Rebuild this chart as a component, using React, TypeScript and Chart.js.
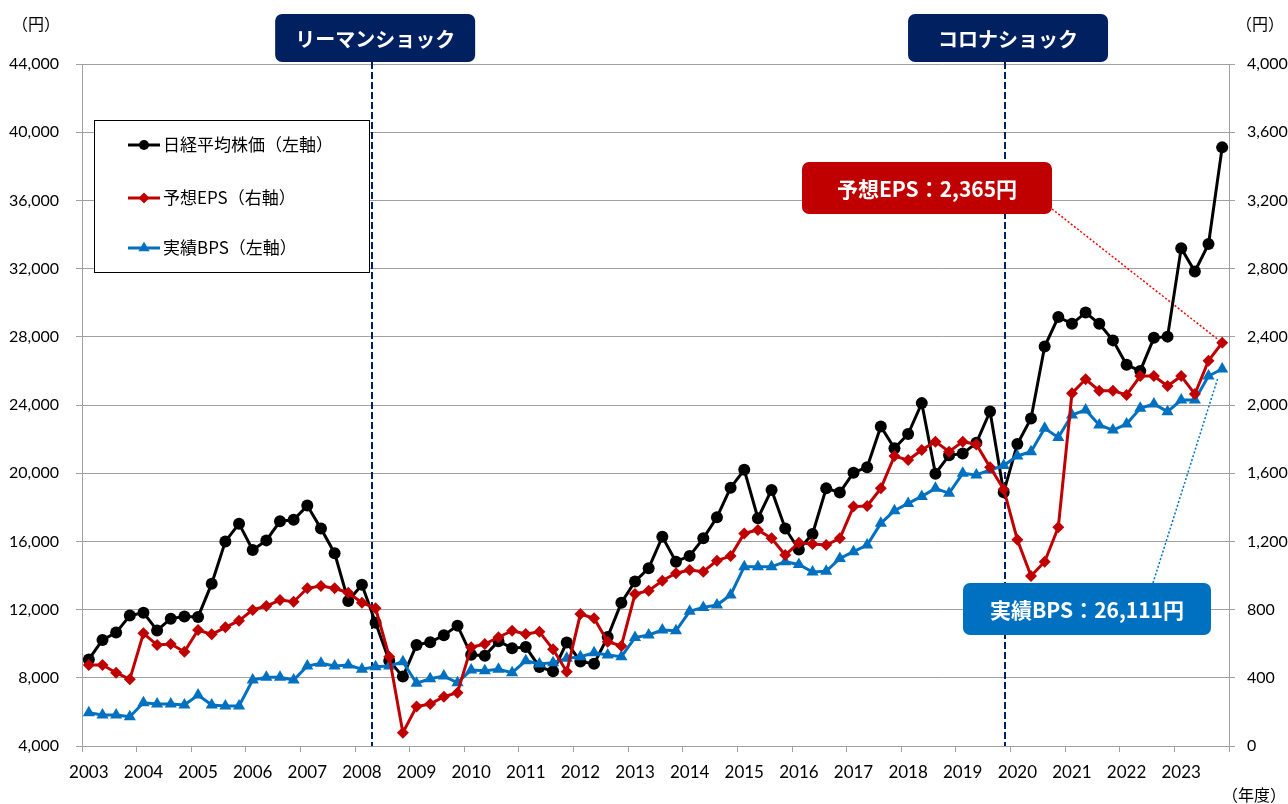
import { useEffect, useRef } from 'react';
import { Chart, registerables } from 'chart.js';

Chart.register(...registerables);

// ---------- data ----------
const YEARS = ['2003', '2004', '2005', '2006', '2007', '2008', '2009', '2010', '2011', '2012', '2013', '2014', '2015', '2016', '2017', '2018', '2019', '2020', '2021', '2022', '2023'];
const QUARTERS = ['Q1', 'Q2', 'Q3', 'Q4'];
const CATEGORIES = YEARS.flatMap((y) => QUARTERS.map((q) => `${y}${q}`));

const SERIES_NAMES = ['日経平均株価（左軸）', '予想EPS（右軸）', '実績BPS（左軸）'];

// 日経平均株価 (left axis, 円)
const NIKKEI = [
  9080, 10220, 10650, 11650,
  11820, 10780, 11470, 11600,
  11570, 13520, 16000, 17040,
  15500, 16060, 17180, 17270,
  18100, 16750, 15310, 12510,
  13460, 11230, 9000, 8070,
  9930, 10080, 10500, 11060,
  9350, 9300, 10150, 9740,
  9800, 8640, 8380, 10070,
  8960, 8820, 10400, 12400,
  13650, 14430, 16270, 14810,
  15150, 16180, 17420, 19150,
  20200, 17360, 19020, 16760,
  15520, 16440, 19110, 18870,
  20030, 20350, 22740, 21460,
  22300, 24110, 19970, 21050,
  21150, 21780, 23620, 18880,
  21710, 23210, 27430, 29160,
  28760, 29420, 28760, 27790,
  26360, 26000, 27940, 28010,
  33200, 31830, 33440, 39110,
];

// 予想EPS (right axis, 円)
const EPS = [
  475, 475, 430, 391,
  661, 592, 598, 553,
  680, 655, 696, 735,
  798, 821, 856, 846,
  925, 938, 925, 899,
  840, 808, 524, 78,
  231, 246, 289, 313,
  579, 598, 638, 676,
  657, 670, 567, 436,
  774, 749, 612, 587,
  891, 911, 969, 1013,
  1032, 1022, 1087, 1114,
  1247, 1267, 1218, 1120,
  1192, 1185, 1179, 1218,
  1404, 1408, 1511, 1701,
  1677, 1736, 1785, 1726,
  1785, 1769, 1635, 1506,
  1210, 997, 1081, 1283,
  2069, 2151, 2084, 2084,
  2059, 2170, 2170, 2111,
  2170, 2064, 2260, 2365,
];

// 実績BPS (left axis, 円)
const BPS = [
  5950, 5820, 5820, 5720,
  6540, 6460, 6460, 6400,
  6990, 6400, 6350, 6350,
  7870, 8030, 8030, 7870,
  8690, 8850, 8690, 8750,
  8500, 8650, 8690, 8940,
  7680, 7940, 8100, 7710,
  8460, 8420, 8500, 8300,
  9000, 8810, 8890, 9140,
  9240, 9470, 9340, 9240,
  10360, 10510, 10800, 10760,
  11900, 12130, 12270, 12860,
  14520, 14520, 14520, 14810,
  14650, 14200, 14250, 15000,
  15400, 15790, 17060, 17800,
  18230, 18640, 19110, 18820,
  19990, 19900, 20190, 20450,
  21010, 21260, 22630, 22100,
  23410, 23710, 22830, 22530,
  22880, 23810, 24060, 23610,
  24290, 24290, 25700, 26111,
];

const LEFT_MIN = 4000;
const LEFT_MAX = 44000;
const LEFT_STEP = 4000;
const RIGHT_MIN = 0;
const RIGHT_MAX = 4000;
const RIGHT_STEP = 400;

const EVENT_LABELS = ['リーマンショック', 'コロナショック'];
const EVENT_POSITIONS = [20.75, 67.1];

const EPS_CALLOUT = '予想EPS：2,365円';
const BPS_CALLOUT = '実績BPS：26,111円';

// ---------- styles ----------
const BLACK = '#000000';
const RED = '#C00000';
const BLUE = '#0070C0';
const NAVY = '#002060';
const GRID = '#A0A0A0';
const NUM_FONT = 'Lato, "Noto Sans", sans-serif';
const JP_FONT = '"Noto Sans CJK JP", "Noto Sans", sans-serif';

function drawMarker(ctx: CanvasRenderingContext2D, style: string, x: number, y: number, r: number, color: string) {
  ctx.fillStyle = color;
  ctx.beginPath();
  if (style === 'circle') {
    ctx.arc(x, y, r, 0, Math.PI * 2);
  } else if (style === 'rectRot') {
    ctx.moveTo(x, y - r);
    ctx.lineTo(x + r, y);
    ctx.lineTo(x, y + r);
    ctx.lineTo(x - r, y);
    ctx.closePath();
  } else {
    for (let k = 0; k < 3; k++) {
      const a = (k * 2 * Math.PI) / 3;
      const px = x + Math.sin(a) * r;
      const py = y - Math.cos(a) * r;
      if (k === 0) ctx.moveTo(px, py);
      else ctx.lineTo(px, py);
    }
    ctx.closePath();
  }
  ctx.fill();
}

function roundBox(ctx: CanvasRenderingContext2D, x: number, y: number, w: number, h: number, color: string, text: string, size: number) {
  ctx.save();
  ctx.fillStyle = color;
  ctx.beginPath();
  (ctx as any).roundRect(x, y, w, h, 7);
  ctx.fill();
  ctx.fillStyle = '#FFFFFF';
  ctx.font = `bold ${size}px ${JP_FONT}`;
  ctx.textAlign = 'center';
  ctx.textBaseline = 'middle';
  ctx.fillText(text, x + w / 2, y + h / 2 + 1);
  ctx.restore();
}

const overlayPlugin = {
  id: 'overlay',
  beforeDatasetsDraw(chart: any) {
    const { ctx, chartArea, scales } = chart;
    const xs = scales.x;
    ctx.save();
    // event dashed lines
    ctx.strokeStyle = NAVY;
    ctx.lineWidth = 2;
    ctx.setLineDash([7, 3]);
    EVENT_POSITIONS.forEach((p) => {
      const px = Math.round(xs.getPixelForValue(p));
      ctx.beginPath();
      ctx.moveTo(px, 62);
      ctx.lineTo(px, chartArea.bottom);
      ctx.stroke();
    });
    // leader lines
    const last = CATEGORIES.length - 1;
    const lx = xs.getPixelForValue(last);
    ctx.setLineDash([2, 2]);
    ctx.lineWidth = 1.5;
    ctx.strokeStyle = '#FF0000';
    ctx.beginPath();
    ctx.moveTo(1052, 209);
    ctx.lineTo(lx, scales.yR.getPixelForValue(EPS[last]));
    ctx.stroke();
    ctx.strokeStyle = BLUE;
    ctx.beginPath();
    ctx.moveTo(1153, 583);
    ctx.lineTo(lx - 4, scales.yL.getPixelForValue(BPS[last]) + 8);
    ctx.stroke();
    ctx.restore();
  },
  afterDraw(chart: any) {
    const { ctx, scales } = chart;
    const xs = scales.x;
    ctx.save();
    // event boxes
    EVENT_LABELS.forEach((label, i) => {
      const px = xs.getPixelForValue(EVENT_POSITIONS[i]);
      roundBox(ctx, px - 97, 14, 200, 48, NAVY, label, 20);
    });
    // callouts
    roundBox(ctx, 802, 162, 250, 52, RED, EPS_CALLOUT, 21);
    roundBox(ctx, 963, 583, 248, 52, BLUE, BPS_CALLOUT, 21);

    // legend
    ctx.fillStyle = '#FFFFFF';
    ctx.fillRect(94.5, 120.5, 275, 152);
    ctx.strokeStyle = '#000000';
    ctx.lineWidth = 1;
    ctx.strokeRect(94.5, 120.5, 275, 152);
    const items = [
      { color: BLACK, style: 'circle', r: 5 },
      { color: RED, style: 'rectRot', r: 5.5 },
      { color: BLUE, style: 'triangle', r: 6.5 },
    ];
    const ys = [145, 198, 248];
    items.forEach((it, i) => {
      const y = ys[i];
      ctx.strokeStyle = it.color;
      ctx.lineWidth = 3;
      ctx.beginPath();
      ctx.moveTo(128, y);
      ctx.lineTo(160, y);
      ctx.stroke();
      drawMarker(ctx, it.style, 144, y, it.r, it.color);
      ctx.fillStyle = '#000000';
      ctx.font = `17px ${JP_FONT}`;
      ctx.textAlign = 'left';
      ctx.textBaseline = 'middle';
      ctx.fillText(SERIES_NAMES[i], 163, y);
    });

    // unit labels
    ctx.fillStyle = '#000000';
    ctx.font = `16px ${JP_FONT}`;
    ctx.textBaseline = 'middle';
    ctx.textAlign = 'left';
    ctx.fillText('（円）', 12, 24);
    ctx.fillText('（円）', 1236, 24);
    ctx.fillText('（年度）', 1222, 795);
    ctx.restore();
  },
};

export default function App() {
  const ref = useRef<HTMLCanvasElement>(null);
  useEffect(() => {
    document.body.style.margin = '0';
    const canvas = ref.current;
    if (!canvas) return;
    const chart = new Chart(canvas, {
      type: 'line',
      data: {
        labels: CATEGORIES,
        datasets: [
          {
            label: SERIES_NAMES[0],
            data: NIKKEI,
            yAxisID: 'yL',
            borderColor: BLACK,
            backgroundColor: BLACK,
            borderWidth: 3,
            pointStyle: 'circle',
            pointRadius: 6,
            pointBorderWidth: 0,
            tension: 0,
            order: 2,
          },
          {
            label: SERIES_NAMES[1],
            data: EPS,
            yAxisID: 'yR',
            borderColor: RED,
            backgroundColor: RED,
            borderWidth: 3,
            pointStyle: 'rectRot',
            pointRadius: 6,
            pointBorderWidth: 0,
            tension: 0,
            order: 0,
          },
          {
            label: SERIES_NAMES[2],
            data: BPS,
            yAxisID: 'yL',
            borderColor: BLUE,
            backgroundColor: BLUE,
            borderWidth: 3,
            pointStyle: 'triangle',
            pointRadius: 7,
            pointBorderWidth: 0,
            tension: 0,
            order: 1,
          },
        ],
      },
      options: {
        animation: false,
        responsive: false,
        maintainAspectRatio: false,
        layout: { padding: { top: 64, left: 0, right: 0, bottom: 0 } },
        plugins: {
          legend: { display: false },
          tooltip: { enabled: false },
        },
        scales: {
          x: {
            type: 'category',
            offset: true,
            grid: {
              offset: true,
              drawOnChartArea: false,
              drawTicks: true,
              tickLength: 6,
              color: (c: any) => (c.type === 'tick' ? (c.index % 4 === 0 ? GRID : 'rgba(0,0,0,0)') : GRID),
            },
            border: { display: true, color: GRID, width: 1 },
            ticks: {
              autoSkip: false,
              maxRotation: 0,
              minRotation: 0,
              padding: 10,
              color: '#000000',
              font: { family: NUM_FONT, size: 17 },
              callback: (_v: any, i: number) => (i % 4 === 0 ? YEARS[i / 4] : ''),
            },
            afterFit: (s: any) => {
              s.height = 58;
            },
          },
          yL: {
            position: 'left',
            min: LEFT_MIN,
            max: LEFT_MAX,
            grid: { color: GRID, tickLength: 6 },
            border: { display: true, color: GRID },
            ticks: {
              stepSize: LEFT_STEP,
              padding: 17,
              color: '#000000',
              font: { family: NUM_FONT, size: 16 },
              callback: (v: any) => Number(v).toLocaleString('en-US'),
            },
            afterFit: (s: any) => {
              s.width = 82;
            },
          },
          yR: {
            position: 'right',
            min: RIGHT_MIN,
            max: RIGHT_MAX,
            grid: { drawOnChartArea: false, color: GRID, tickLength: 6 },
            border: { display: true, color: GRID },
            ticks: {
              stepSize: RIGHT_STEP,
              padding: 12,
              color: '#000000',
              font: { family: NUM_FONT, size: 16 },
              callback: (v: any) => Number(v).toLocaleString('en-US'),
            },
            afterFit: (s: any) => {
              s.width = 59;
            },
          },
        },
      },
      plugins: [overlayPlugin],
    } as any);
    return () => chart.destroy();
  }, []);
  return <canvas ref={ref} width={1288} height={804} style={{ display: 'block' }} />;
}
